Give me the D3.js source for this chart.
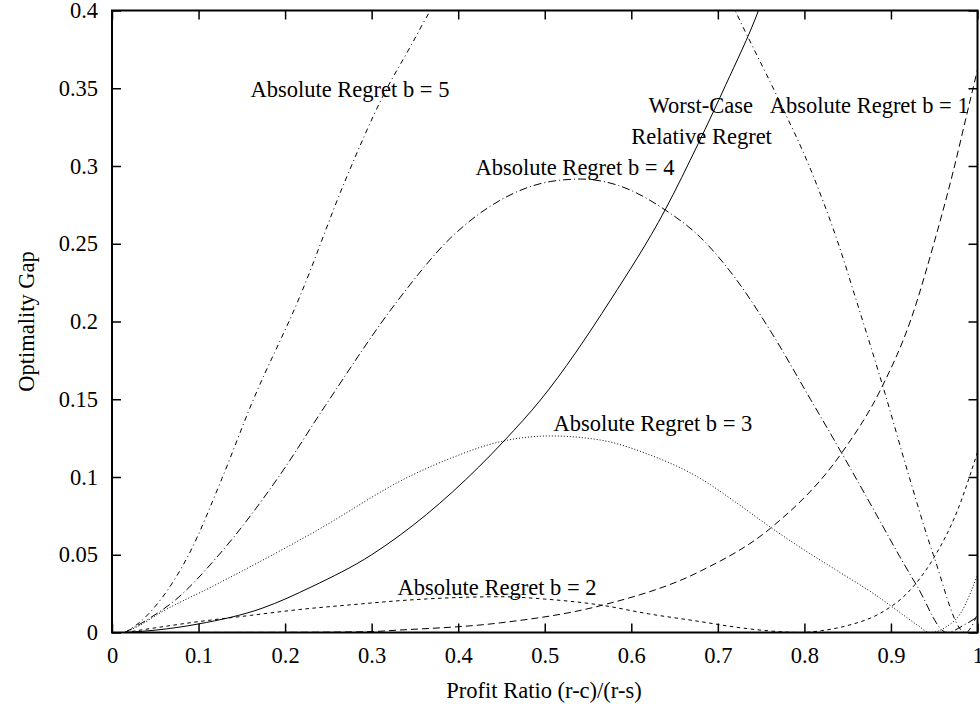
<!DOCTYPE html>
<html>
<head>
<meta charset="utf-8">
<script src="https://cdn.jsdelivr.net/npm/d3@7"></script>
<style>
  body { margin: 0; background: #fff; }
  svg { display: block; font-family: "Liberation Serif", "Times New Roman", serif; }
</style>
</head>
<body>
<div id="gap-chart"></div>
<script>
// tick values
var xTicks = [0, 0.1, 0.2, 0.3, 0.4, 0.5, 0.6, 0.7, 0.8, 0.9, 1];
var yTicks = [0, 0.05, 0.1, 0.15, 0.2, 0.25, 0.3, 0.35, 0.4];

// curves, [profit ratio, optimality gap]; null splits a curve
var worstCaseRelative = [[0.015, 0], [0.05, 0.0015], [0.1, 0.0055], [0.1734, 0.0156], [0.231, 0.0295],
    [0.3, 0.05], [0.333, 0.0627], [0.454, 0.1238], [0.495, 0.1495], [0.576, 0.2138],
    [0.639, 0.2717], [0.6775, 0.3146], [0.709, 0.352], [0.747, 0.4], [0.755, 0.412]];
var absRegretB1 = [[0.015, 0], [0.2, 0.0001], [0.294, 0.0005], [0.333, 0.0016], [0.4486, 0.0062],
    [0.564, 0.0172], [0.68, 0.0395], [0.7607, 0.067], [0.8435, 0.1158], [0.8879, 0.156],
    [0.9235, 0.202], [0.9495, 0.25], [0.9726, 0.298], [0.988, 0.334], [1.0, 0.362]];
var absRegretB2 = [[0.015, 0], [0.05, 0.003], [0.1, 0.007], [0.16, 0.011], [0.217, 0.0148],
    [0.28, 0.018], [0.333, 0.0205], [0.4, 0.0225], [0.4486, 0.023], [0.5, 0.0215], [0.564, 0.0177],
    [0.62, 0.012], [0.68, 0.007], [0.72, 0.0035], [0.76, 0.001], [0.795, 0], [0.82, 0.0012],
    [0.85, 0.0045], [0.888, 0.0125], [0.92, 0.026], [0.9495, 0.048], [0.9765, 0.078], [1.0, 0.116]];
var absRegretB3 = [[0.015, 0], [0.03, 0.004], [0.058, 0.0134], [0.1156, 0.0295], [0.231, 0.0638],
    [0.347, 0.1013], [0.391, 0.112], [0.4486, 0.1227], [0.506, 0.1264], [0.564, 0.1238],
    [0.622, 0.1141], [0.68, 0.099], [0.72, 0.084], [0.76, 0.068], [0.8, 0.053], [0.84, 0.039],
    [0.88, 0.025], [0.91, 0.013], [0.93, 0.005], [0.945, 0], [0.965, 0.004], [0.98, 0.012],
    [1.0, 0.037]];
var absRegretB4 = [[0.015, 0], [0.04, 0.008], [0.0732, 0.0209], [0.1233, 0.0498], [0.1927, 0.1002],
    [0.2466, 0.146], [0.3306, 0.2138], [0.3908, 0.2535], [0.4486, 0.278], [0.5064, 0.29],
    [0.541, 0.2916], [0.5834, 0.2878], [0.6393, 0.2717], [0.68, 0.254], [0.72, 0.228],
    [0.7607, 0.194], [0.807, 0.15], [0.8445, 0.114], [0.88, 0.079], [0.91, 0.049],
    [0.93, 0.03], [0.965, 0], [0.985, 0.005], [1.0, 0.01]];
var absRegretB5 = [[0.015, 0], [0.035, 0.008], [0.056, 0.021], [0.0886, 0.05], [0.127, 0.099],
    [0.162, 0.148], [0.217, 0.216], [0.269, 0.29], [0.314, 0.346], [0.345, 0.377], [0.368, 0.4],
    [0.375, 0.406], null,
    [0.71, 0.412], [0.72, 0.4], [0.77, 0.343], [0.807, 0.298], [0.838, 0.252], [0.862, 0.21],
    [0.893, 0.154], [0.919, 0.104], [0.949, 0.05], [0.986, 0], [1.0, 0.012]];

var series = [
    {name: "worst", values: worstCaseRelative, dash: null},
    {name: "b1", values: absRegretB1, dash: "7,4"},
    {name: "b2", values: absRegretB2, dash: "3.5,3.5"},
    {name: "b3", values: absRegretB3, dash: "1,2"},
    {name: "b4", values: absRegretB4, dash: "8,3,1,3"},
    {name: "b5", values: absRegretB5, dash: "5,3.5,1,3.5"}
];

// curve labels, anchored in data coordinates (left edge, vertical centre)
var labels = [
    {text: "Absolute Regret b = 5", x: 0.16, y: 0.35},
    {text: "Worst-Case", x: 0.62, y: 0.34},
    {text: "Absolute Regret b = 1", x: 0.76, y: 0.34},
    {text: "Relative Regret", x: 0.60, y: 0.32},
    {text: "Absolute Regret b = 4", x: 0.42, y: 0.30},
    {text: "Absolute Regret b = 3", x: 0.51, y: 0.135},
    {text: "Absolute Regret b = 2", x: 0.33, y: 0.03}
];

var W = 980, H = 704;
var margin = {top: 10.5, right: 2.5, bottom: 71.5, left: 112};
var width = W - margin.left - margin.right,
    height = H - margin.top - margin.bottom;
var fontSize = "22.5px";

var svg = d3.select('#gap-chart').append('svg')
    .attr('width', W)
    .attr('height', H);

var g = svg.append('g')
    .attr('transform', 'translate(' + margin.left + ',' + margin.top + ')');

var x = d3.scaleLinear().domain([0, 1]).range([0, width]);
var y = d3.scaleLinear().domain([0, 0.4]).range([height, 0]);
var fmt = d3.format("~g");

g.append('clipPath').attr('id', 'plot-clip')
  .append('rect')
    .attr('width', width)
    .attr('height', height);

function styleAxis(sel) {
    sel.select('.domain').remove();
    sel.selectAll('.tick line').attr('stroke', '#000').attr('stroke-width', 1.5);
    sel.selectAll('.tick text')
        .attr('fill', '#000')
        .style('font-family', '"Liberation Serif", "Times New Roman", serif')
        .style('font-size', fontSize);
}

// ticks point inwards on all four sides, labels only bottom and left
g.append('g')
    .attr('transform', 'translate(0,' + height + ')')
    .call(d3.axisBottom(x).tickValues(xTicks).tickSize(-9).tickPadding(15).tickFormat(fmt))
    .call(styleAxis);
g.append('g')
    .call(d3.axisTop(x).tickValues(xTicks).tickSize(-9).tickFormat(''))
    .call(styleAxis);
g.append('g')
    .call(d3.axisLeft(y).tickValues(yTicks).tickSize(-9).tickPadding(14).tickFormat(fmt))
    .call(styleAxis);
g.append('g')
    .attr('transform', 'translate(' + width + ',0)')
    .call(d3.axisRight(y).tickValues(yTicks).tickSize(-9).tickFormat(''))
    .call(styleAxis);

var line = d3.line()
    .defined(function(d) { return d != null; })
    .x(function(d) { return x(d[0]); })
    .y(function(d) { return y(d[1]); })
    .curve(d3.curveMonotoneX);

g.append('g')
    .attr('clip-path', 'url(#plot-clip)')
  .selectAll('path.curve')
    .data(series)
    .enter()
    .append('path')
    .classed('curve', true)
    .attr('d', function(d) { return line(d.values); })
    .attr('fill', 'none')
    .attr('stroke', '#000')
    .attr('stroke-width', 1)
    .attr('stroke-dasharray', function(d) { return d.dash; });

g.selectAll('text.curve-label')
    .data(labels)
    .enter()
    .append('text')
    .classed('curve-label', true)
    .attr('x', function(d) { return x(d.x); })
    .attr('y', function(d) { return y(d.y); })
    .attr('dy', '0.39em')
    .style('font-size', fontSize)
    .text(function(d) { return d.text; });

// frame
g.append('rect')
    .attr('width', width)
    .attr('height', height)
    .attr('fill', 'none')
    .attr('stroke', '#000')
    .attr('stroke-width', 2);

// axis titles
svg.append('text')
    .attr('x', 544)
    .attr('y', 698)
    .attr('text-anchor', 'middle')
    .style('font-size', fontSize)
    .text('Profit Ratio (r-c)/(r-s)');

svg.append('text')
    .attr('transform', 'translate(34,' + (margin.top + height / 2) + ') rotate(-90)')
    .attr('text-anchor', 'middle')
    .style('font-size', fontSize)
    .text('Optimality Gap');
</script>
</body>
</html>
